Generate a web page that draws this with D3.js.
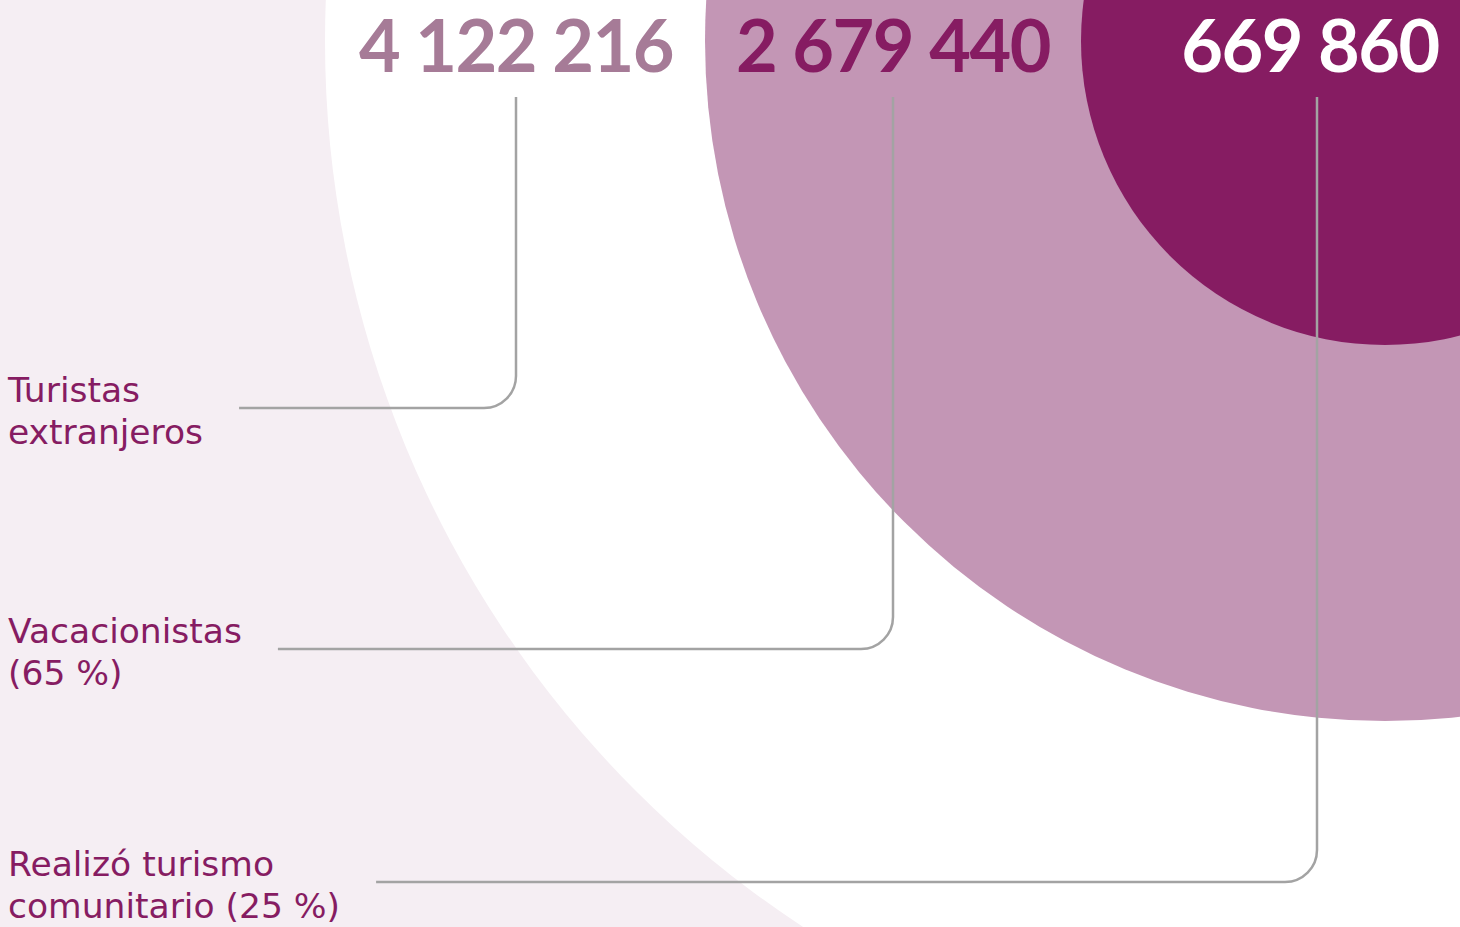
<!DOCTYPE html>
<html>
<head>
<meta charset="utf-8">
<script src="https://cdn.jsdelivr.net/npm/d3@7"></script>
<style>
  html, body { margin: 0; padding: 0; background: #f5eef3; }
  svg { display: block; }
</style>
</head>
<body>
<svg id="chart" width="1460" height="927"></svg>
<script>
// Visitor groups, from the largest to the smallest
const categories = ["Turistas extranjeros", "Vacacionistas (65 %)", "Realizó turismo comunitario (25 %)"];
const labelLines = [["Turistas", "extranjeros"], ["Vacacionistas", "(65 %)"], ["Realizó turismo", "comunitario (25 %)"]];
const values = [4122216, 2679440, 669860];

// Colours for each ring and for the figure shown on it
const ringColors = ["#ffffff", "#c396b5", "#861c62"];
const numberColors = ["#a67b97", "#861c62", "#ffffff"];

const W = 1460, H = 927;
const svg = d3.select("#chart");

// Spanish-style grouping with a space as thousands separator
const locale = d3.formatLocale({ decimal: ",", thousands: " ", grouping: [3], currency: ["", ""] });
const fmt = locale.format(",d");

// Nested rings share one centre near the top-right corner
const cx = 1385, cy = 41;
const rScale = d3.scaleLinear()
  .domain([values[2], values[1], values[0]])
  .range([304, 680, 1060]);

// Layout of the figures and the leader lines
const numberX = [516, 893, 1317];
const numberBaseline = 72;
const leaderTop = 97;
const labelBaselines = [402, 643, 876];
const labelLineGap = 42;
const cornerR = 32;

svg.append("rect").attr("width", W).attr("height", H).attr("fill", "#f5eef3");

svg.selectAll("circle.ring")
  .data(values)
  .join("circle")
  .attr("class", "ring")
  .attr("cx", cx)
  .attr("cy", cy)
  .attr("r", d => rScale(d))
  .attr("fill", (d, i) => ringColors[i]);

// Labels on the left
const labels = svg.selectAll("text.label")
  .data(categories)
  .join("text")
  .attr("class", "label")
  .attr("x", 8)
  .attr("y", (d, i) => labelBaselines[i])
  .attr("fill", "#861c62")
  .style("font-family", "'DejaVu Sans', 'Open Sans', sans-serif")
  .style("font-size", "34.5px");

labels.each(function(d, i) {
  d3.select(this).selectAll("tspan")
    .data(labelLines[i])
    .join("tspan")
    .attr("x", 8)
    .attr("dy", (t, j) => j === 0 ? 0 : labelLineGap)
    .text(t => t);
});

// Leader lines: from the label, along the row, rounded corner, up to the figure
const leaders = svg.append("g")
  .attr("fill", "none")
  .attr("stroke", "#a3a3a3")
  .attr("stroke-width", 2.5);

labels.each(function(d, i) {
  const bb = this.getBBox();
  const x0 = bb.x + bb.width + 36;
  const y = labelBaselines[i] + 6;
  const xv = numberX[i];
  const p = d3.path();
  p.moveTo(x0, y);
  p.lineTo(xv - cornerR, y);
  p.arcTo(xv, y, xv, y - cornerR, cornerR);
  p.lineTo(xv, leaderTop);
  leaders.append("path").attr("d", p.toString());
});

// Figures across the top
svg.selectAll("text.value")
  .data(values)
  .join("text")
  .attr("class", "value")
  .attr("x", (d, i) => numberX[i] - (i === 2 ? 7 : 0))
  .attr("y", numberBaseline)
  .attr("text-anchor", "middle")
  .attr("fill", (d, i) => numberColors[i])
  .style("font-family", "Lato, 'Open Sans', sans-serif")
  .style("font-weight", "700")
  .style("font-size", "72px")
  .style("letter-spacing", "-1.5px")
  .text(d => fmt(d));
</script>
</body>
</html>
